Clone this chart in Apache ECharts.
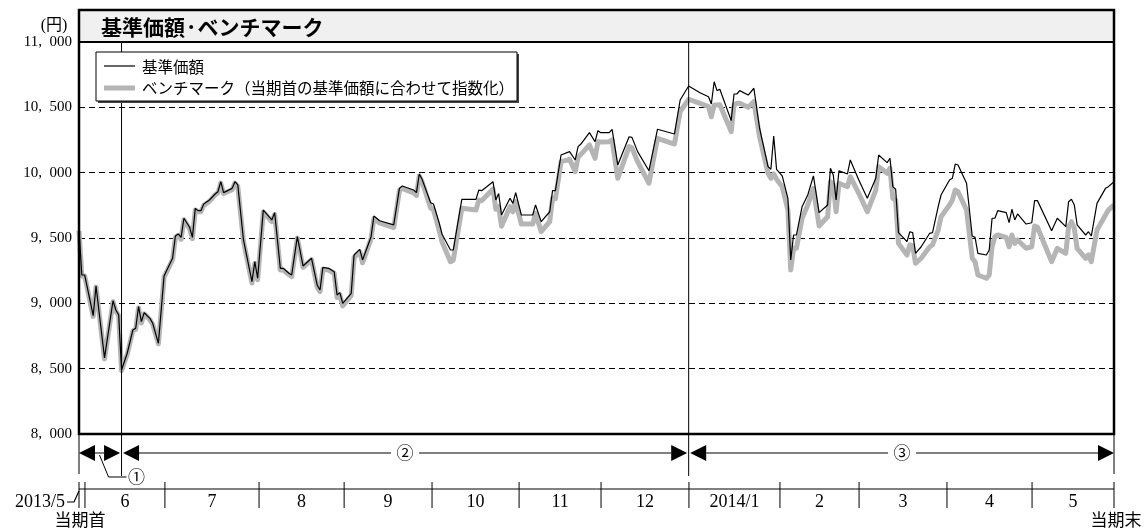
<!DOCTYPE html>
<html><head><meta charset="utf-8">
<script src="https://cdn.jsdelivr.net/npm/echarts@6/dist/echarts.min.js"></script>
<style>html,body{margin:0;padding:0;background:#fff}#c{width:1144px;height:529px}</style>
</head><body><div id="c"></div>
<script>
// x = day position from the start of the period (0 .. 365)
const days = [0,1,2,5,6,9,12,13,14,15,17,19,20,21,22,23,25,26,28,30,31,33,34,35,36,37,39,40,41,42,43,44,46,48,49,50,51,54,55,56,58,61,62,63,65,68,69,71,72,74,75,77,79,82,84,85,86,88,90,91,92,93,96,97,99,100,103,104,106,111,113,114,118,119,120,121,124,125,127,128,131,132,135,140,141,142,146,147,148,149,152,153,154,156,160,161,163,166,167,168,170,173,175,176,177,180,182,183,184,187,188,190,194,195,197,201,204,210,212,215,219,222,223,224,225,226,230,231,232,233,236,238,240,243,244,245,246,248,250,251,252,253,255,257,259,261,264,265,266,267,268,271,272,275,278,281,282,285,286,287,288,289,292,293,294,295,297,300,301,303,304,307,308,309,310,313,315,316,317,320,321,322,323,324,327,328,329,330,331,334,336,337,338,343,345,348,349,350,351,352,355,356,357,359,362,363,365];
// 基準価額
const nav = [9560,9217,9217,8905,9133,8582,9020,8949,8911,8490,8618,8796,8809,8975,8860,8928,8885,8847,8694,9209,9255,9345,9515,9531,9505,9651,9582,9505,9727,9709,9709,9760,9791,9837,9854,9931,9847,9880,9931,9906,9485,9166,9319,9192,9714,9638,9694,9268,9268,9230,9217,9510,9286,9345,9140,9102,9275,9268,9242,9064,9082,9000,9077,9370,9413,9332,9510,9668,9632,9600,9880,9898,9867,9847,9990,9949,9770,9760,9617,9531,9408,9408,9796,9796,9867,9862,9931,9791,9840,9676,9804,9765,9847,9676,9676,9753,9625,9701,9862,9862,10135,10161,10097,10199,10219,10306,10237,10321,10306,10306,10332,10059,10275,10270,10161,10015,10332,10296,10556,10663,10612,10581,10526,10696,10628,10638,10398,10602,10602,10628,10594,10646,10340,10046,10026,10281,10026,9975,9804,9332,9523,9523,9740,9829,9975,9694,9753,10033,9982,9791,10015,9990,10097,9944,9804,9957,10135,10077,10110,9893,9873,9541,9472,9548,9541,9383,9433,9536,9541,9740,9829,9944,9957,10066,10059,9919,9515,9505,9383,9370,9408,9651,9651,9709,9694,9617,9720,9638,9684,9607,9617,9786,9786,9556,9651,9587,9778,9796,9753,9600,9523,9548,9515,9765,9880,9893,9931];
// ベンチマーク
const bench = [9555,9210,9210,8900,9125,8575,9012,8940,8905,8485,8610,8790,8800,8965,8850,8920,8875,8840,8690,9200,9245,9335,9505,9520,9490,9640,9570,9495,9715,9700,9700,9750,9780,9830,9845,9920,9840,9870,9920,9895,9475,9155,9305,9180,9700,9625,9680,9255,9255,9220,9205,9500,9275,9335,9125,9090,9260,9255,9230,9045,9065,8980,9060,9350,9395,9310,9495,9650,9615,9580,9865,9880,9845,9825,9975,9930,9730,9715,9560,9472,9319,9330,9727,9714,9790,9785,9875,9720,9740,9590,9740,9700,9778,9607,9607,9689,9548,9625,9804,9800,10084,10102,10008,10117,10140,10212,10110,10237,10235,10237,10250,9957,10199,10190,10084,9919,10263,10219,10467,10562,10531,10505,10428,10518,10518,10520,10314,10518,10531,10531,10500,10543,10275,9995,9957,9990,9950,9893,9714,9255,9421,9421,9651,9753,9880,9592,9663,9931,9910,9701,9919,9893,9969,9842,9701,9867,10046,9995,10033,9804,9790,9459,9370,9447,9440,9306,9345,9433,9447,9561,9663,9753,9791,9867,9854,9714,9345,9319,9217,9192,9217,9433,9510,9523,9505,9433,9523,9459,9485,9421,9433,9592,9582,9319,9421,9383,9587,9625,9574,9421,9345,9370,9319,9561,9676,9714,9753];
const monthBounds = [2.1,30.3,63.5,93.5,124.5,155.2,184.1,215.1,247.2,275.1,306.1,336.1,365];
const monthLabels = ['6','7','8','9','10','11','12','2014/1','2','3','4','5'];
const firstMonthLabel = '2013/5';
const periodBounds = [0,15,215,365];
const periodLabels = ['①','②','③'];
const yMin = 8000, yMax = 11000, yStep = 500;

const chart = echarts.init(document.getElementById('c'));
const serif = "'Liberation Serif','DejaVu Serif','Noto Sans CJK JP',serif";
const cjk = "'Noto Sans CJK JP','Noto Sans',sans-serif";
function fmt(v){ const s = String(v); return s.slice(0,-3) + ',\u2002' + s.slice(-3); }

chart.setOption({
  animation:false,
  grid:{left:79,right:30,top:42,bottom:95},
  xAxis:{type:'value',min:0,max:365,show:false},
  yAxis:{type:'value',min:yMin,max:yMax,interval:yStep,
    axisLine:{show:false},axisTick:{show:false},
    axisLabel:{formatter:fmt,color:'#000',fontFamily:serif,fontSize:15,margin:7},
    splitLine:{lineStyle:{color:'#000',type:[6,4],width:1}}},
  series:[
    {name:'ベンチマーク',type:'line',data:days.map((d,i)=>[d,bench[i]]),symbol:'none',
      lineStyle:{color:'#b5b5b5',width:5,join:'round'},z:2},
    {name:'基準価額',type:'line',data:days.map((d,i)=>[d,nav[i]]),symbol:'none',
      lineStyle:{color:'#000',width:1.2},z:3}
  ]
});

const X = v => chart.convertToPixel({xAxisIndex:0}, v);
const Y = v => chart.convertToPixel({yAxisIndex:0}, v);
const x0 = X(0), x1 = X(365), yTop = Y(yMax), yBot = Y(yMin);
const g = [];
const line = (a,b,c,d,w) => g.push({type:'line',z:50,shape:{x1:a,y1:b,x2:c,y2:d},style:{stroke:'#000',lineWidth:w||1}});
const text = (t,x,y,font,align) => g.push({type:'text',z:60,style:{text:t,x:x,y:y,font:font,fill:'#000',align:align||'center',verticalAlign:'middle'}});
const tri = (tipX,y,dir) => g.push({type:'polygon',z:55,shape:{points:[[tipX,y],[tipX+dir*16,y-8],[tipX+dir*16,y+8]]},style:{fill:'#000'}});

// title bar
g.push({type:'rect',z:1,shape:{x:x0,y:yTop-32,width:x1-x0,height:32},style:{fill:'#f0f0f0'}});
text('基準価額·ベンチマーク', x0+22, yTop-15, "bold 21px "+cjk, 'left');
text('(円)', 54, yTop-16, "16px "+serif, 'center');
// period vertical lines
for (let i=1;i<periodBounds.length-1;i++){ const px = X(periodBounds[i]); line(px,yTop,px,476,1); }
line(x0,yBot,x0,474,1); line(x1,yBot,x1,474,1);
// outer border
g.push({type:'rect',z:70,shape:{x:x0,y:yTop-32,width:x1-x0,height:yBot-yTop+32},style:{fill:null,stroke:'#000',lineWidth:2.5}});
line(x0,yTop,x1,yTop,2);
// legend
g.push({type:'rect',z:80,shape:{x:98,y:54,width:421,height:49},style:{fill:'#444'}});
g.push({type:'rect',z:81,shape:{x:96,y:52,width:421,height:49},style:{fill:'#fff',stroke:'#000',lineWidth:1}});
g.push({type:'line',z:82,shape:{x1:104,y1:66,x2:135,y2:66},style:{stroke:'#000',lineWidth:1.2}});
g.push({type:'line',z:82,shape:{x1:104,y1:88,x2:135,y2:88},style:{stroke:'#b5b5b5',lineWidth:5}});
g.push({type:'text',z:83,style:{text:'基準価額',x:142,y:67,font:"15.5px "+cjk,fill:'#000',verticalAlign:'middle'}});
g.push({type:'text',z:83,style:{text:'ベンチマーク（当期首の基準価額に合わせて指数化）',x:142,y:88,font:"15.5px "+cjk,fill:'#000',verticalAlign:'middle'}});
// period arrows
const ay = 453;
for (let i=0;i<periodBounds.length-1;i++){
  const a = X(periodBounds[i]) + (i===0?0:1.5), b = X(periodBounds[i+1]) - (i===periodBounds.length-2?0:1.5);
  tri(a, ay, 1); tri(b, ay, -1);
  const mid = (a+b)/2;
  if (i===0){
    line(a+16, ay, b-16, ay, 1);
    g.push({type:'polyline',z:50,shape:{points:[[mid,ay+2],[mid+9,ay+24],[mid+27,ay+24]]},style:{stroke:'#000',lineWidth:1,fill:null}});
    text(periodLabels[i], mid+37, ay+24, "17px "+cjk);
  } else {
    line(a+16, ay, mid-14, ay, 1); line(mid+14, ay, b-16, ay, 1);
    text(periodLabels[i], mid, ay, "17px "+cjk);
  }
}
// month axis
const my = 489;
line(x0, my, x1, my, 1);
line(x0, 482, x0, 508, 1);
for (let i=0;i<monthBounds.length;i++){ const px = X(monthBounds[i]); line(px,482,px,508,1); }
for (let i=0;i<monthLabels.length;i++){
  const c = (X(monthBounds[i]) + X(monthBounds[i+1]))/2;
  text(monthLabels[i], c, 502, "18px "+serif);
}
text(firstMonthLabel, 65, 502, "18px "+serif, 'right');
g.push({type:'polyline',z:50,shape:{points:[[67,502],[74,502],[x0,491]]},style:{stroke:'#000',lineWidth:1.2,fill:null}});
text('当期首', 80, 520, "17px "+cjk);
text('当期末', 1116, 520, "17px "+cjk);

chart.setOption({graphic:g});
</script></body></html>
